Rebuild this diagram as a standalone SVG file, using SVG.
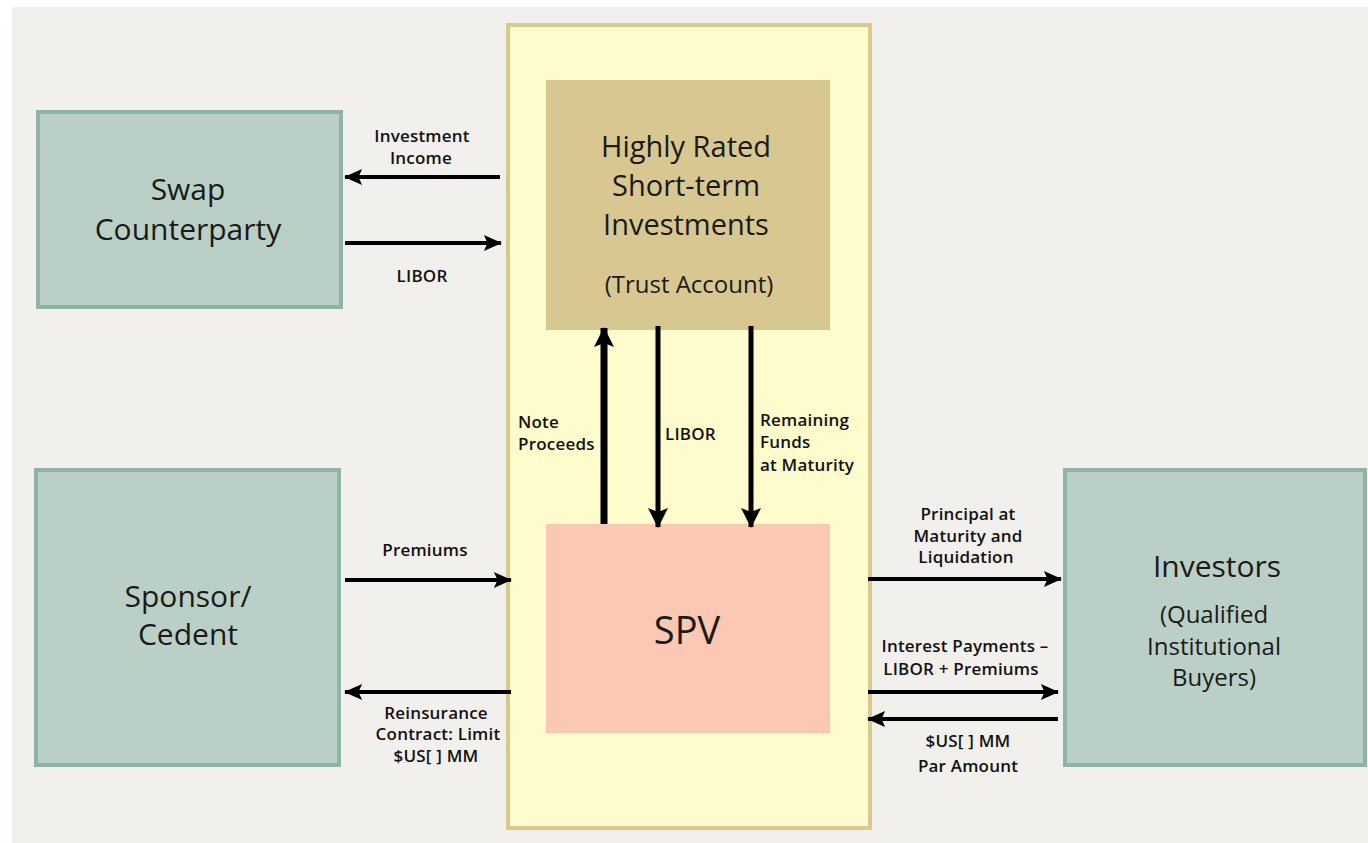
<svg xmlns="http://www.w3.org/2000/svg" width="1368" height="843" viewBox="0 0 1368 843">
  <defs>
    <style>
      .party { fill: #bacfc6; stroke: #8fb3a5; stroke-width: 4; }
      .node-text { font-family: "Open Sans", "Noto Sans", sans-serif; fill: #1a1a1a; text-anchor: middle; }
      .big { font-size: 30px; }
      .sub { font-size: 24px; }
      .label { font-family: "Open Sans", "Noto Sans", sans-serif; font-weight: 600; font-size: 17px; letter-spacing: 0.2px; fill: #111; }
      .mid { text-anchor: middle; }
      .flow { stroke: #000; stroke-width: 4; fill: none; }
      .flow-v { stroke: #000; stroke-width: 5; fill: none; }
      .flow-thick { stroke: #000; stroke-width: 7; fill: none; }
    </style>
    <marker id="head" viewBox="0 0 20 20" refX="19" refY="10" markerWidth="20" markerHeight="18" markerUnits="userSpaceOnUse" orient="auto">
      <path d="M0,1 L20,10 L0,19 L4,10 Z" fill="#000"/>
    </marker>
    <marker id="head-v" viewBox="0 0 20 20" refX="19" refY="10" markerWidth="20" markerHeight="24" markerUnits="userSpaceOnUse" orient="auto">
      <path d="M0,0 L20,10 L0,20 L4,10 Z" fill="#000"/>
    </marker>
  </defs>

  <!-- page -->
  <rect x="0" y="0" width="1368" height="843" fill="#ffffff"/>
  <rect x="12" y="7" width="1356" height="836" fill="#f1f0ec"/>

  <!-- special purpose vehicle enclosure -->
  <g id="enclosure">
    <rect x="508" y="25" width="362" height="803" fill="#fefbcc" stroke="#d9c98f" stroke-width="4"/>
  </g>

  <g id="trust-account">
    <rect x="546" y="80" width="284" height="250" fill="#d8c790"/>
    <text class="node-text" x="686" y="157" font-size="29">Highly Rated</text>
    <text class="node-text" x="686" y="196" font-size="29">Short-term</text>
    <text class="node-text" x="686" y="235" font-size="29">Investments</text>
    <text class="node-text sub" x="689" y="293">(Trust Account)</text>
  </g>

  <g id="spv">
    <rect x="546" y="524" width="284" height="209" fill="#fbc8b3"/>
    <text class="node-text" x="687" y="644" font-size="38">SPV</text>
  </g>

  <g id="swap-counterparty">
    <rect class="party" x="38" y="112" width="303" height="195"/>
    <text class="node-text big" x="188" y="200">Swap</text>
    <text class="node-text big" x="188" y="240">Counterparty</text>
  </g>

  <g id="sponsor-cedent">
    <rect class="party" x="36" y="470" width="303" height="295"/>
    <text class="node-text big" x="188" y="607">Sponsor/</text>
    <text class="node-text big" x="188" y="645">Cedent</text>
  </g>

  <g id="investors">
    <rect class="party" x="1065" y="470" width="300" height="295"/>
    <text class="node-text big" x="1217" y="577">Investors</text>
    <text class="node-text sub" x="1214" y="623">(Qualified</text>
    <text class="node-text sub" x="1214" y="655">Institutional</text>
    <text class="node-text sub" x="1214" y="686">Buyers)</text>
  </g>

  <!-- money flows -->
  <g id="connectors">
    <line class="flow" x1="500" y1="177" x2="345" y2="177" marker-end="url(#head)"/>
    <line class="flow" x1="345" y1="243" x2="501" y2="243" marker-end="url(#head)"/>
    <line class="flow-thick" x1="604" y1="524" x2="604" y2="328" marker-end="url(#head-v)"/>
    <line class="flow-v" x1="658" y1="326" x2="658" y2="527" marker-end="url(#head-v)"/>
    <line class="flow-v" x1="751" y1="326" x2="751" y2="527" marker-end="url(#head-v)"/>
    <line class="flow" x1="345" y1="580" x2="511" y2="580" marker-end="url(#head)"/>
    <line class="flow" x1="511" y1="692" x2="345" y2="692" marker-end="url(#head)"/>
    <line class="flow" x1="868" y1="579" x2="1061" y2="579" marker-end="url(#head)"/>
    <line class="flow" x1="868" y1="692" x2="1058" y2="692" marker-end="url(#head)"/>
    <line class="flow" x1="1058" y1="719" x2="868" y2="719" marker-end="url(#head)"/>
  </g>

  <g id="flow-labels">
    <text class="label mid" x="422" y="142">Investment</text>
    <text class="label mid" x="421" y="164">Income</text>
    <text class="label mid" x="422" y="282">LIBOR</text>

    <text class="label" x="518" y="428">Note</text>
    <text class="label" x="518" y="450">Proceeds</text>
    <text class="label" x="665" y="440">LIBOR</text>
    <text class="label" x="760" y="426">Remaining</text>
    <text class="label" x="760" y="448">Funds</text>
    <text class="label" x="760" y="471">at Maturity</text>

    <text class="label mid" x="425" y="556">Premiums</text>
    <text class="label mid" x="436" y="719">Reinsurance</text>
    <text class="label mid" x="438" y="740">Contract: Limit</text>
    <text class="label mid" x="436" y="762">$US[ ] MM</text>

    <text class="label mid" x="968" y="520">Principal at</text>
    <text class="label mid" x="968" y="542">Maturity and</text>
    <text class="label mid" x="966" y="563">Liquidation</text>
    <text class="label mid" x="965" y="652">Interest Payments –</text>
    <text class="label mid" x="961" y="675">LIBOR + Premiums</text>
    <text class="label mid" x="968" y="747">$US[ ] MM</text>
    <text class="label mid" x="968" y="772">Par Amount</text>
  </g>
</svg>
